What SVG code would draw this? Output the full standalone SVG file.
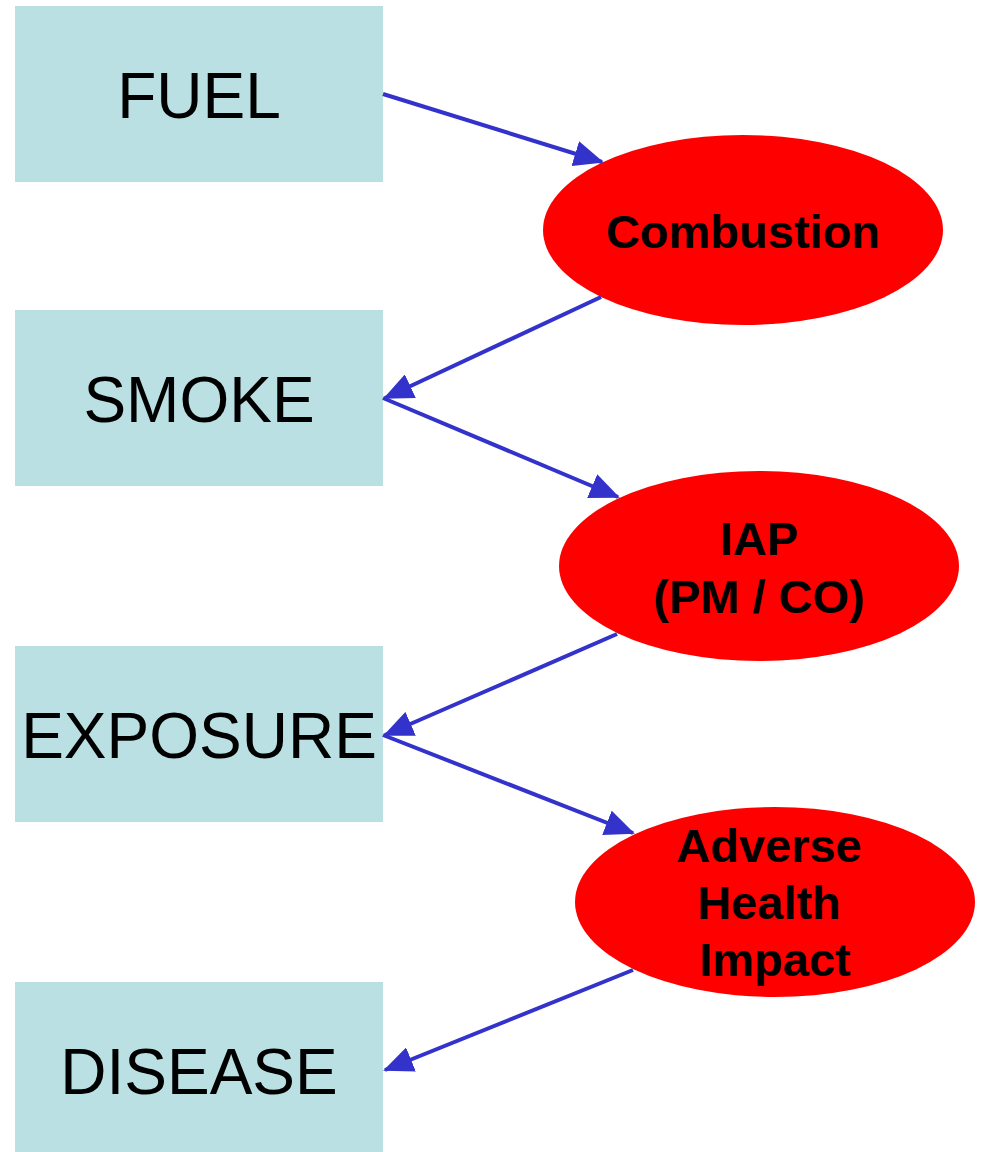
<svg xmlns="http://www.w3.org/2000/svg" width="985" height="1152" viewBox="0 0 985 1152">
<style>
.box{fill:#BAE0E3}
.ell{fill:#FF0000}
.bt{font-family:"Liberation Sans",Arial,sans-serif;font-size:64px;fill:#000;text-anchor:middle}
.et{font-family:"Liberation Sans",Arial,sans-serif;font-size:47px;font-weight:bold;fill:#000;text-anchor:middle}
.con line{stroke:#3333CC;stroke-width:4;marker-end:url(#ah)}
</style>
<defs>
<marker id="ah" markerUnits="userSpaceOnUse" markerWidth="30" markerHeight="26" refX="28" refY="13" orient="auto" viewBox="0 0 30 26">
<path d="M0,0 L30,13 L0,26 Z" fill="#3333CC"/>
</marker>
</defs>
<rect width="985" height="1152" fill="#fff"/>
<g id="fuel"><rect class="box" x="15" y="6" width="368" height="176"/><text class="bt" x="199" y="118">FUEL</text></g>
<g id="smoke"><rect class="box" x="15" y="310" width="368" height="176"/><text class="bt" x="199" y="422">SMOKE</text></g>
<g id="exposure"><rect class="box" x="15" y="646" width="368" height="176"/><text class="bt" x="199" y="758">EXPOSURE</text></g>
<g id="disease"><rect class="box" x="15" y="982" width="368" height="170"/><text class="bt" x="199" y="1094">DISEASE</text></g>
<g id="combustion"><ellipse class="ell" cx="743" cy="230" rx="200" ry="95"/><text class="et" x="743" y="248">Combustion</text></g>
<g id="iap"><ellipse class="ell" cx="759" cy="566" rx="200" ry="95"/><text class="et" x="759" y="555">IAP</text><text class="et" x="759" y="613">(PM / CO)</text></g>
<g id="adverse"><ellipse class="ell" cx="775" cy="902" rx="200" ry="95"/><text class="et" x="769" y="862">Adverse</text><text class="et" x="769" y="919">Health</text><text class="et" x="775" y="976">Impact</text></g>
<g class="con" id="connectors">
<line x1="383" y1="94" x2="602" y2="162"/>
<line x1="601" y1="297" x2="385" y2="398"/>
<line x1="383" y1="398" x2="618" y2="497"/>
<line x1="617" y1="634" x2="385" y2="735"/>
<line x1="383" y1="735" x2="633" y2="833"/>
<line x1="633" y1="970" x2="385" y2="1070"/>
</g>
</svg>
